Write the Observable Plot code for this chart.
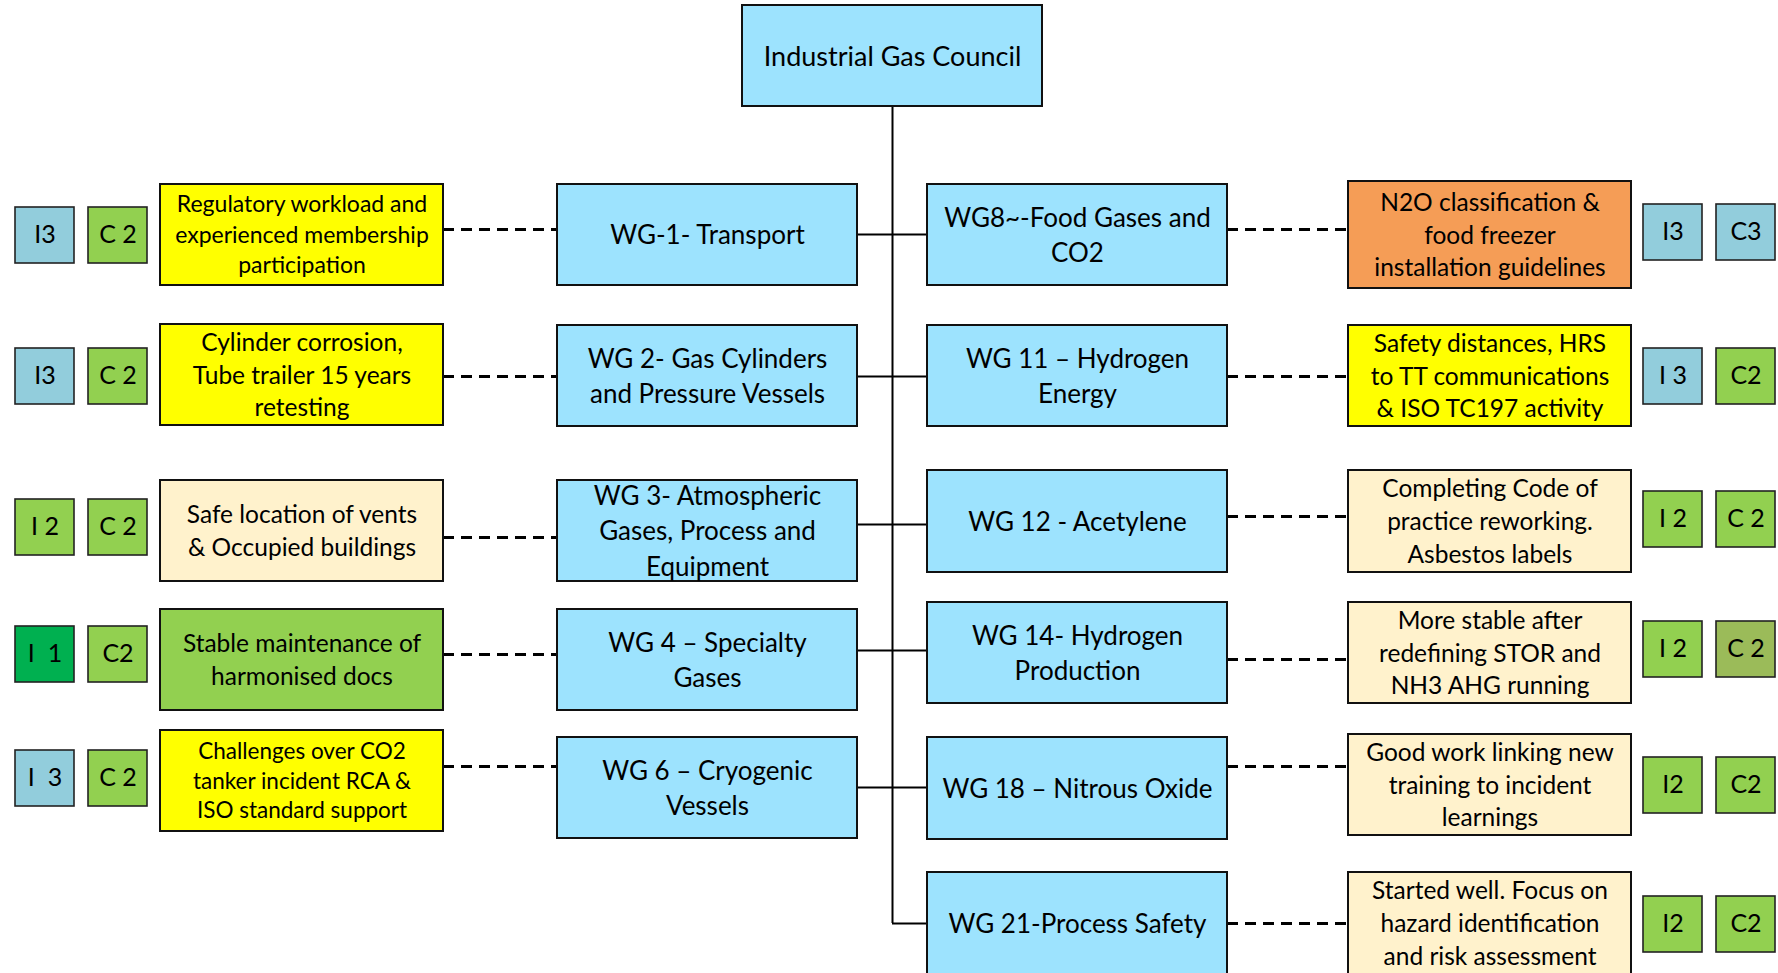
<!DOCTYPE html>
<html>
<head>
<meta charset="utf-8">
<script src="https://cdn.jsdelivr.net/npm/d3@7"></script>
<script src="https://cdn.jsdelivr.net/npm/@observablehq/plot@0.6"></script>
<style>
  html, body { margin: 0; padding: 0; background: #ffffff; }
  #chart svg { display: block; }
</style>
</head>
<body>
<div id="chart"></div>
<script>
// ---------------- DATA ----------------
const council = "Industrial Gas Council";

const leftGroups = [
  "WG-1- Transport",
  "WG 2- Gas Cylinders\nand Pressure Vessels",
  "WG 3- Atmospheric\nGases, Process and\nEquipment",
  "WG 4 – Specialty\nGases",
  "WG 6 – Cryogenic\nVessels"
];
const leftStatus = [
  "Regulatory workload and\nexperienced membership\nparticipation",
  "Cylinder corrosion,\nTube trailer 15 years\nretesting",
  "Safe location of vents\n& Occupied buildings",
  "Stable maintenance of\nharmonised docs",
  "Challenges over CO2\ntanker incident RCA &\nISO standard support"
];
const leftStatusLevel = ["attention", "attention", "progressing", "stable", "attention"];
const leftILabel = ["I3", "I3", "I 2", "I  1", "I  3"];
const leftIGrade = ["3", "3", "2", "1", "3"];
const leftCLabel = ["C 2", "C 2", "C 2", "C2", "C 2"];
const leftCGrade = ["2", "2", "2", "2", "2"];

const rightGroups = [
  "WG8~-Food Gases and\nCO2",
  "WG 11 – Hydrogen\nEnergy",
  "WG 12 - Acetylene",
  "WG 14- Hydrogen\nProduction",
  "WG 18 – Nitrous Oxide",
  "WG 21-Process Safety"
];
const rightStatus = [
  "N2O classification &\nfood freezer\ninstallation guidelines",
  "Safety distances, HRS\nto TT communications\n& ISO TC197 activity",
  "Completing Code of\npractice reworking.\nAsbestos labels",
  "More stable after\nredefining STOR and\nNH3 AHG running",
  "Good work linking new\ntraining to incident\nlearnings",
  "Started well. Focus on\nhazard identification\nand risk assessment"
];
const rightStatusLevel = ["issue", "attention", "progressing", "progressing", "progressing", "progressing"];
const rightILabel = ["I3", "I 3", "I 2", "I 2", "I2", "I2"];
const rightIGrade = ["3", "3", "2", "2", "2", "2"];
const rightCLabel = ["C3", "C2", "C 2", "C 2", "C2", "C2"];
const rightCGrade = ["3", "2", "2", "2-", "2", "2"];

// ---------------- LAYOUT (diagram geometry) ----------------
const W = 1778, H = 973;
const trunkX = 892, trunkTop = 106;
const cols = {
  lI: [15, 74], lC: [88, 147], lS: [160, 443], lW: [557, 857],
  rW: [927, 1227], rS: [1348, 1631], rI: [1643, 1702], rC: [1716, 1775]
};
const branchY = [234, 376, 524, 650, 787, 923];
const L = {
  badgeTop: [207, 348, 499, 626, 750],
  statusTop: [184, 324, 480, 609, 730],
  statusFont: [23, 24.5, 24.5, 24.5, 22.5],
  wgTop: [184, 325, 480, 609, 737],
  dashY: [229, 376, 537, 654, 766]
};
const R = {
  wgTop: [184, 325, 470, 602, 737, 872],
  wgH: [101, 101, 102, 101, 102, 120],
  statusTop: [181, 325, 470, 602, 734, 872],
  statusH: [107, 101, 102, 101, 101, 102],
  badgeTop: [204, 348, 491, 621, 757, 896],
  dashY: [229, 376, 516, 659, 766, 923]
};
const boxH = 101, badgeH = 56;

// ---------------- BUILD TABLES ----------------
const boxes = [];   // big boxes (council, WG, status)
const badges = [];
boxes.push({label: council, tone: "wg", x1: 742, x2: 1042, y1: 5, y2: trunkTop, fs: 27});

leftGroups.forEach((g, i) => {
  boxes.push({label: g, tone: "wg", x1: cols.lW[0], x2: cols.lW[1], y1: L.wgTop[i], y2: L.wgTop[i] + boxH, fs: 26});
  boxes.push({label: leftStatus[i], tone: leftStatusLevel[i], x1: cols.lS[0], x2: cols.lS[1], y1: L.statusTop[i], y2: L.statusTop[i] + boxH, fs: L.statusFont[i]});
  badges.push({label: leftILabel[i], tone: "g" + leftIGrade[i], x1: cols.lI[0], x2: cols.lI[1], y1: L.badgeTop[i], y2: L.badgeTop[i] + badgeH});
  badges.push({label: leftCLabel[i], tone: "g" + leftCGrade[i], x1: cols.lC[0], x2: cols.lC[1], y1: L.badgeTop[i], y2: L.badgeTop[i] + badgeH});
});
rightGroups.forEach((g, i) => {
  const wy = R.wgTop[i];
  boxes.push({label: g, tone: "wg", x1: cols.rW[0], x2: cols.rW[1], y1: wy, y2: wy + R.wgH[i], fs: 26,
              ty: i === 5 ? wy + 51 : wy + R.wgH[i] / 2});
  boxes.push({label: rightStatus[i], tone: rightStatusLevel[i], x1: cols.rS[0], x2: cols.rS[1], y1: R.statusTop[i], y2: R.statusTop[i] + R.statusH[i], fs: 24.5});
  badges.push({label: rightILabel[i], tone: "g" + rightIGrade[i], x1: cols.rI[0], x2: cols.rI[1], y1: R.badgeTop[i], y2: R.badgeTop[i] + badgeH});
  badges.push({label: rightCLabel[i], tone: "g" + rightCGrade[i], x1: cols.rC[0], x2: cols.rC[1], y1: R.badgeTop[i], y2: R.badgeTop[i] + badgeH});
});
boxes.forEach(b => { if (b.ty === undefined) b.ty = (b.y1 + b.y2) / 2; b.tx = (b.x1 + b.x2) / 2; });
badges.forEach(b => { b.ty = (b.y1 + b.y2) / 2; b.tx = (b.x1 + b.x2) / 2; });

const connectors = [
  ...leftGroups.map((g, i) => ({x1: cols.lW[1], x2: trunkX, y: branchY[i]})),
  ...rightGroups.map((g, i) => ({x1: trunkX, x2: cols.rW[0], y: branchY[i]}))
];
const dashes = [
  ...leftGroups.map((g, i) => ({x1: cols.lS[1], x2: cols.lW[0], y: L.dashY[i]})),
  ...rightGroups.map((g, i) => ({x1: cols.rW[1], x2: cols.rS[0], y: R.dashY[i]}))
];

const toneDomain = ["wg", "attention", "progressing", "stable", "issue", "g1", "g2", "g3", "g2-"];
const toneRange  = ["#9de3fe", "#ffff00", "#fff2cc", "#92d050", "#f59d56", "#00b050", "#92d050", "#92cddc", "#9bbb59"];

const font = "Lato, 'Open Sans', sans-serif";
const textMarks = [];
Array.from(new Set(boxes.map(b => b.fs))).forEach(fs => {
  textMarks.push(Plot.text(boxes.filter(b => b.fs === fs), {
    x: "tx", y: "ty", text: "label", fontSize: fs, lineHeight: fs >= 26 ? 1.38 : (fs < 23.5 ? 1.32 : 1.34),
    fill: "#000", textAnchor: "middle", lineAnchor: "middle", dy: -2
  }));
});

const chart = Plot.plot({
  width: W, height: H,
  margin: 0,
  x: {domain: [0, W], range: [0, W], axis: null},
  y: {domain: [0, H], range: [0, H], axis: null},
  color: {type: "ordinal", domain: toneDomain, range: toneRange},
  style: {fontFamily: font, background: "#ffffff"},
  marks: [
    Plot.ruleX([trunkX], {y1: trunkTop, y2: branchY[5], stroke: "#000", strokeWidth: 2}),
    Plot.ruleY(connectors, {x1: "x1", x2: "x2", y: "y", stroke: "#000", strokeWidth: 2}),
    Plot.ruleY(dashes, {x1: "x1", x2: "x2", y: "y", stroke: "#000", strokeWidth: 3, strokeDasharray: "11,7"}),
    Plot.rect(boxes, {x1: "x1", x2: "x2", y1: "y1", y2: "y2", fill: "tone", stroke: "#111", strokeWidth: 2}),
    Plot.rect(badges, {x1: "x1", x2: "x2", y1: "y1", y2: "y2", fill: "tone", stroke: "#222", strokeWidth: 1.6}),
    ...textMarks,
    Plot.text(badges, {x: "tx", y: "ty", text: "label", fontSize: 25, fill: "#000", textAnchor: "middle", dy: -1})
  ]
});
document.getElementById("chart").appendChild(chart);
</script>
</body>
</html>
